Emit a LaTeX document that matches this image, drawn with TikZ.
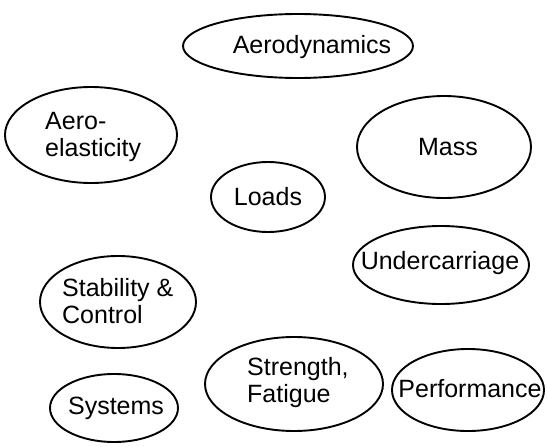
\documentclass[tikz,border=0pt]{standalone}
\usepackage{fontspec}
\setmainfont{Liberation Sans}
\usetikzlibrary{shapes.geometric}
\begin{document}
\begin{tikzpicture}[x=1pt,y=-1pt,
  oval/.style={draw,ellipse,line width=1.9pt,inner sep=0pt},
  lbl/.style={font=\fontsize{25}{27}\selectfont,inner sep=0pt,align=left}]
\useasboundingbox (0,0) rectangle (547,447);
\node[oval,minimum width=230,minimum height=64] (aero) at (298,46) {};
\node[oval,minimum width=172,minimum height=96] (elast) at (91,135) {};
\node[oval,minimum width=174,minimum height=102] (mass) at (444,147) {};
\node[oval,minimum width=114,minimum height=70] (loads) at (268,197) {};
\node[oval,minimum width=176,minimum height=78] (under) at (441,265) {};
\node[oval,minimum width=156,minimum height=92] (stab) at (118,302) {};
\node[oval,minimum width=178,minimum height=94] (str) at (294,384) {};
\node[oval,minimum width=128,minimum height=68] (sys) at (114,408) {};
\node[oval,minimum width=152,minimum height=82] (perf) at (468,390) {};
\node[lbl] (taero) at (312,47) {Aerodynamics};
\node[lbl,anchor=west] (telast) at (45,137) {Aero-\\elasticity};
\node[lbl] (tmass) at (448,147) {Mass};
\node[lbl] (tloads) at (268,197) {Loads};
\node[lbl] (tunder) at (440,263) {Undercarriage};
\node[lbl,anchor=west] (tstab) at (62,301) {Stability \&\\Control};
\node[lbl,anchor=west] (tstr) at (247,383) {Strength,\\Fatigue};
\node[lbl] (tsys) at (116,408) {Systems};
\node[lbl] (tperf) at (470,389) {Performance};
\end{tikzpicture}
\end{document}
